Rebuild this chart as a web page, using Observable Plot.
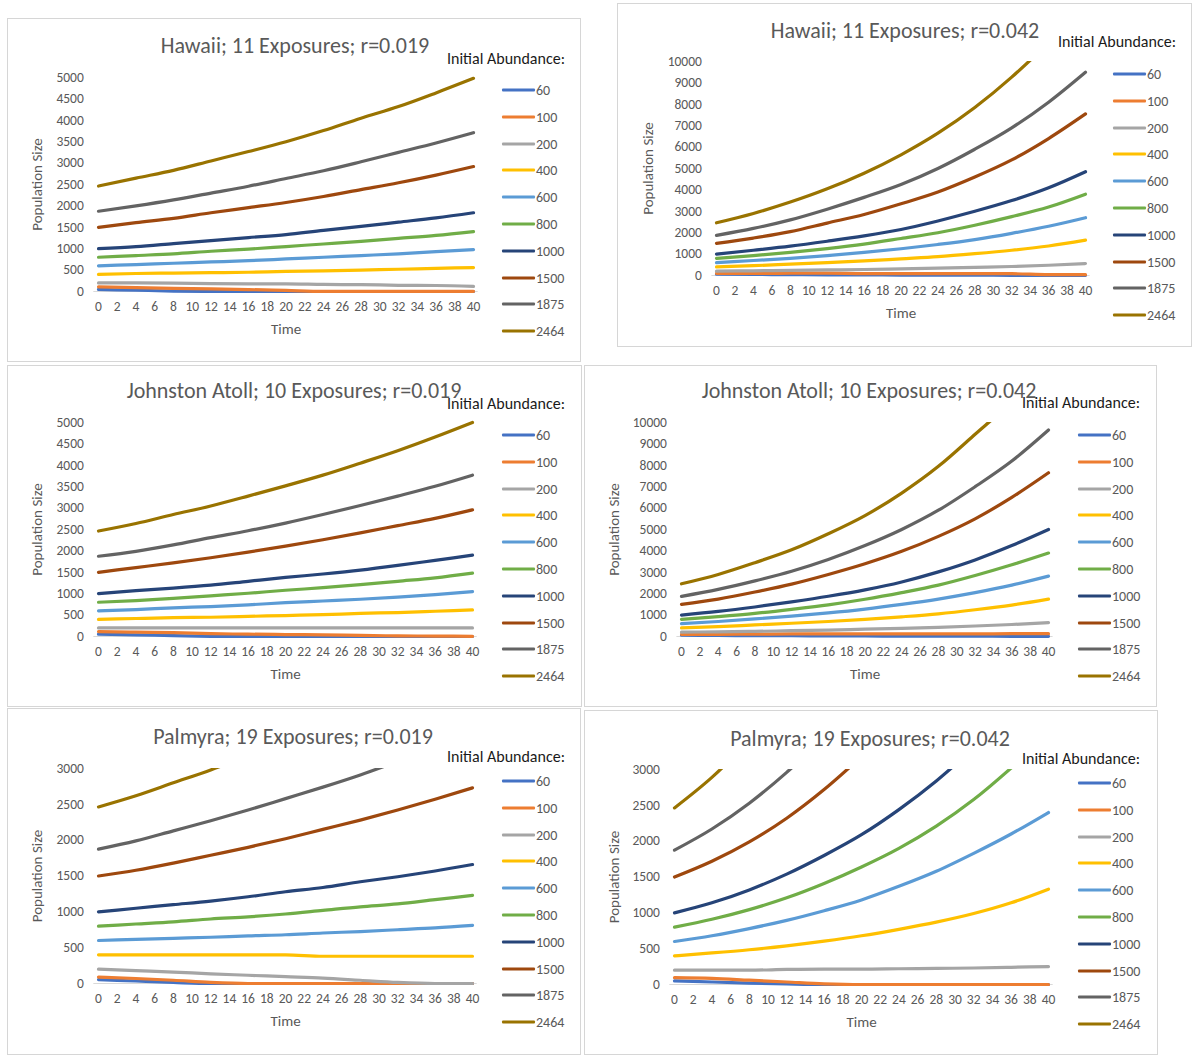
<!DOCTYPE html>
<html>
<head>
<meta charset="utf-8">
<script src="https://cdn.jsdelivr.net/npm/d3@7"></script>
<script src="https://cdn.jsdelivr.net/npm/@observablehq/plot@0.6"></script>
<style>
  html, body { margin: 0; padding: 0; background: #fff; }
  #root { position: relative; width: 1193px; height: 1057px; overflow: hidden; background: #fff;
          font-family: Carlito, Calibri, Lato, "Open Sans", sans-serif; }
  .panel { position: absolute; border: 1px solid #d6d6d6; box-sizing: border-box; }
  .plot { position: absolute; }
  .title { position: absolute; transform: translate(-50%, -50%); white-space: nowrap; font-size: 22px; color: #595959; }
  .ia { position: absolute; transform: translateY(-50%); white-space: nowrap; font-size: 16px; color: #1a1a1a; }
  .sw { position: absolute; height: 3px; width: 33px; transform: translateY(-50%); border-radius: 1px; }
  .lab { position: absolute; transform: translateY(-50%); white-space: nowrap; font-size: 14px; color: #595959; }
</style>
</head>
<body>
<div id="root"></div>
<script>
// ---- shared values ----
const time = [0, 4, 8, 12, 16, 20, 24, 28, 32, 36, 40];
const abundance = ["60", "100", "200", "400", "600", "800", "1000", "1500", "1875", "2464"];
const colors = ["#4472C4", "#ED7D31", "#A5A5A5", "#FFC000", "#5B9BD5", "#70AD47", "#264478", "#9E480E", "#636363", "#997300"];
const xTicks = [0, 2, 4, 6, 8, 10, 12, 14, 16, 18, 20, 22, 24, 26, 28, 30, 32, 34, 36, 38, 40];
const yTicks5000 = [0, 500, 1000, 1500, 2000, 2500, 3000, 3500, 4000, 4500, 5000];
const yTicks10000 = [0, 1000, 2000, 3000, 4000, 5000, 6000, 7000, 8000, 9000, 10000];
const yTicks3000 = [0, 500, 1000, 1500, 2000, 2500, 3000];

// ---- series values (one row per initial abundance, columns = time) ----
const hawaii019 = [
  [50, 30, 10, 3, 0, 0, 0, 0, 0, 0, 0],
  [110, 90, 75, 60, 45, 25, 5, 5, 5, 5, 5],
  [200, 200, 195, 185, 180, 180, 165, 160, 145, 140, 120],
  [400, 420, 430, 440, 450, 470, 480, 500, 520, 540, 560],
  [600, 630, 660, 690, 720, 760, 800, 840, 880, 930, 980],
  [800, 840, 880, 940, 990, 1050, 1110, 1170, 1240, 1310, 1400],
  [1000, 1050, 1120, 1190, 1260, 1330, 1430, 1520, 1620, 1720, 1840],
  [1500, 1610, 1710, 1840, 1960, 2080, 2220, 2380, 2540, 2720, 2920],
  [1875, 2000, 2140, 2300, 2460, 2640, 2820, 3030, 3250, 3470, 3710],
  [2464, 2650, 2830, 3050, 3270, 3500, 3760, 4050, 4320, 4640, 4980]
];
const hawaii042 = [
  [60, 50, 40, 30, 25, 20, 15, 15, 10, 10, 10],
  [100, 100, 105, 110, 90, 90, 90, 90, 85, 45, 40],
  [200, 220, 240, 260, 280, 310, 340, 380, 420, 480, 560],
  [400, 460, 530, 600, 680, 780, 880, 1020, 1180, 1380, 1650],
  [600, 700, 800, 930, 1080, 1250, 1450, 1680, 1970, 2300, 2700],
  [800, 930, 1080, 1260, 1470, 1730, 2000, 2350, 2750, 3200, 3800],
  [1000, 1180, 1370, 1600, 1850, 2150, 2550, 3000, 3500, 4100, 4850],
  [1500, 1750, 2050, 2450, 2850, 3350, 3900, 4600, 5400, 6400, 7550],
  [1875, 2200, 2600, 3100, 3650, 4250, 5000, 5900, 6900, 8100, 9500],
  [2464, 2900, 3430, 4050, 4780, 5640, 6650, 7850, 9270, 10900, 12800]
];
const johnston019 = [
  [55, 40, 20, 5, 0, 0, 0, 0, 0, 0, 0],
  [115, 100, 90, 65, 55, 45, 40, 25, 15, 10, 5],
  [200, 200, 200, 200, 200, 200, 200, 200, 200, 200, 200],
  [400, 420, 440, 450, 470, 490, 510, 540, 560, 590, 620],
  [600, 630, 670, 700, 740, 790, 830, 870, 920, 980, 1050],
  [800, 840, 890, 950, 1010, 1080, 1140, 1210, 1290, 1370, 1480],
  [1000, 1070, 1130, 1200, 1290, 1380, 1460, 1550, 1660, 1780, 1900],
  [1500, 1610, 1720, 1840, 1970, 2110, 2260, 2420, 2590, 2760, 2960],
  [1875, 1990, 2140, 2310, 2470, 2650, 2850, 3060, 3280, 3510, 3770],
  [2464, 2640, 2850, 3050, 3280, 3520, 3770, 4050, 4340, 4660, 5000]
];
const johnston042 = [
  [60, 50, 40, 35, 30, 25, 20, 20, 15, 10, 10],
  [100, 100, 110, 120, 120, 120, 120, 120, 120, 130, 130],
  [200, 220, 240, 270, 300, 340, 380, 430, 490, 560, 650],
  [400, 460, 540, 620, 700, 800, 920, 1060, 1250, 1470, 1750],
  [600, 700, 820, 950, 1100, 1280, 1500, 1750, 2050, 2400, 2820],
  [800, 930, 1080, 1270, 1480, 1740, 2050, 2400, 2850, 3350, 3900],
  [1000, 1170, 1380, 1620, 1880, 2180, 2550, 3020, 3580, 4250, 5000],
  [1500, 1750, 2080, 2450, 2900, 3400, 3980, 4680, 5500, 6500, 7650],
  [1875, 2200, 2600, 3050, 3600, 4250, 5000, 5900, 7000, 8200, 9650],
  [2464, 2900, 3450, 4050, 4800, 5650, 6700, 7950, 9450, 11000, 13000]
];
const palmyra019 = [
  [55, 35, 15, 0, 0, 0, 0, 0, 0, 0, 0],
  [90, 70, 45, 15, 0, 0, 0, 0, 0, 0, 0],
  [200, 180, 160, 135, 115, 95, 75, 45, 15, 0, 0],
  [400, 400, 400, 400, 400, 400, 380, 380, 380, 380, 380],
  [600, 615, 630, 645, 665, 680, 705, 725, 750, 775, 810],
  [800, 830, 860, 900, 930, 970, 1020, 1070, 1110, 1170, 1230],
  [1000, 1050, 1100, 1150, 1210, 1280, 1340, 1420, 1490, 1570, 1660],
  [1500, 1580, 1680, 1790, 1900, 2020, 2150, 2280, 2420, 2570, 2730],
  [1875, 1990, 2130, 2270, 2420, 2580, 2740, 2910, 3100, null, null],
  [2464, 2620, 2800, 2980, 3180, null, null, null, null, null, null]
];
const palmyra042 = [
  [50, 35, 20, 8, 0, 0, 0, 0, 0, 0, 0],
  [95, 85, 60, 35, 10, 0, 0, 0, 0, 0, 0],
  [200, 200, 200, 210, 215, 215, 220, 225, 230, 240, 250],
  [400, 440, 485, 540, 605, 680, 770, 870, 990, 1140, 1330],
  [600, 680, 780, 895, 1030, 1180, 1370, 1580, 1830, 2100, 2400],
  [800, 910, 1045, 1210, 1410, 1640, 1900, 2210, 2580, 3020, 3500],
  [1000, 1140, 1320, 1540, 1800, 2090, 2440, 2840, 3300, null, null],
  [1500, 1720, 1990, 2320, 2720, 3180, null, null, null, null, null],
  [1875, 2170, 2530, 2960, 3450, null, null, null, null, null, null],
  [2464, 2890, 3400, null, null, null, null, null, null, null, null]
];

const titles = [
  "Hawaii; 11 Exposures; r=0.019",
  "Hawaii; 11 Exposures; r=0.042",
  "Johnston Atoll; 10 Exposures; r=0.019",
  "Johnston Atoll; 10 Exposures; r=0.042",
  "Palmyra; 19 Exposures; r=0.019",
  "Palmyra; 19 Exposures; r=0.042"
];

// ---- layout (pixel placement of each panel) ----
const panels = [
  {box: [7, 18, 581, 362], titleX: 295, titleY: 45, x0: 98, x40: 473, yTop: 77, yBot: 291, ymax: 5000, ticks: yTicks5000, data: hawaii019, ylabX: 37, iaX: 447, iaY: 58, legX: 502, legY: 90},
  {box: [617, 3, 1192, 347], titleX: 905, titleY: 30, x0: 716, x40: 1085, yTop: 61, yBot: 275, ymax: 10000, ticks: yTicks10000, data: hawaii042, ylabX: 648, iaX: 1058, iaY: 41, legX: 1113, legY: 74},
  {box: [7, 365, 582, 707], titleX: 294, titleY: 390, x0: 98, x40: 472, yTop: 422, yBot: 636, ymax: 5000, ticks: yTicks5000, data: johnston019, ylabX: 37, iaX: 447, iaY: 403, legX: 502, legY: 435},
  {box: [584, 365, 1157, 707], titleX: 869, titleY: 390, x0: 681, x40: 1048, yTop: 422, yBot: 636, ymax: 10000, ticks: yTicks10000, data: johnston042, ylabX: 614, iaX: 1022, iaY: 402, legX: 1078, legY: 435},
  {box: [7, 708, 581, 1055], titleX: 293, titleY: 736, x0: 98, x40: 472, yTop: 768, yBot: 983, ymax: 3000, ticks: yTicks3000, data: palmyra019, ylabX: 37, iaX: 447, iaY: 756, legX: 502, legY: 781},
  {box: [584, 710, 1158, 1055], titleX: 870, titleY: 738, x0: 674, x40: 1048, yTop: 769, yBot: 984, ymax: 3000, ticks: yTicks3000, data: palmyra042, ylabX: 614, iaX: 1022, iaY: 758, legX: 1078, legY: 783}
];
const legendStep = 26.8;
const FONT = 'Carlito, Calibri, Lato, "Open Sans", sans-serif';

const root = document.getElementById("root");

panels.forEach((p, pi) => {
  const [L, T, R, B] = p.box;
  const W = R - L, H = B - T;

  const frame = document.createElement("div");
  frame.className = "panel";
  Object.assign(frame.style, {left: L + "px", top: T + "px", width: W + "px", height: H + "px"});
  root.appendChild(frame);

  const rows = [];
  p.data.forEach((vals, si) => {
    vals.forEach((v, ti) => {
      if (v != null) rows.push({t: time[ti], v, s: abundance[si], over: d3.max(vals) > p.ymax});
    });
  });

  const ppu = (p.x40 - p.x0) / 40;
  const frameL = p.x0 - 0.5 * ppu;
  const frameR = p.x40 + 0.5 * ppu;
  const marginLeft = frameL - L;
  const marginRight = R - frameR;
  const marginTop = p.yTop - T;
  const marginBottom = B - p.yBot;

  const lineOpts = {x: "t", y: "v", z: "s", stroke: "s", strokeWidth: 3.2, curve: "monotone-x",
                    strokeLinecap: "round", strokeLinejoin: "round"};

  const chart = Plot.plot({
    width: W, height: H,
    marginLeft, marginRight, marginTop, marginBottom,
    style: {fontFamily: FONT, fontSize: "13.5px", color: "#595959", background: "transparent", overflow: "visible"},
    x: {domain: [-0.5, 40.5]},
    y: {domain: [0, p.ymax]},
    color: {type: "ordinal", domain: abundance, range: colors},
    marks: [
      Plot.ruleY([0], {stroke: "#d9d9d9", strokeWidth: 1}),
      Plot.line(rows.filter(d => !d.over), lineOpts),
      Plot.line(rows.filter(d => d.over), {...lineOpts, clip: true}),
      Plot.axisX({ticks: xTicks, tickSize: 0, tickPadding: 10, label: null, tickFormat: d3.format("d"), fontSize: 13.5}),
      Plot.axisY({ticks: p.ticks, tickSize: 0, tickPadding: 10, label: null, tickFormat: d3.format("d"), fontSize: 13.5}),
      Plot.text(["Time"], {frameAnchor: "bottom", dy: 42, fontSize: 15, fill: "#595959"}),
      Plot.text(["Population Size"], {frameAnchor: "left", dx: p.ylabX - frameL, rotate: -90,
        textAnchor: "middle", lineAnchor: "middle", fontSize: 15, fill: "#595959"})
    ]
  });
  chart.classList.add("plot");
  Object.assign(chart.style, {left: L + "px", top: T + "px"});
  root.appendChild(chart);

  const title = document.createElement("div");
  title.className = "title";
  title.textContent = titles[pi];
  Object.assign(title.style, {left: p.titleX + "px", top: p.titleY + "px"});
  root.appendChild(title);

  const ia = document.createElement("div");
  ia.className = "ia";
  ia.textContent = "Initial Abundance:";
  Object.assign(ia.style, {left: p.iaX + "px", top: p.iaY + "px"});
  root.appendChild(ia);

  abundance.forEach((a, i) => {
    const y = p.legY + i * legendStep;
    const sw = document.createElement("div");
    sw.className = "sw";
    Object.assign(sw.style, {left: p.legX + "px", top: y + "px", background: colors[i]});
    root.appendChild(sw);
    const lab = document.createElement("div");
    lab.className = "lab";
    lab.textContent = a;
    Object.assign(lab.style, {left: (p.legX + 34) + "px", top: y + "px"});
    root.appendChild(lab);
  });
});
</script>
</body>
</html>
